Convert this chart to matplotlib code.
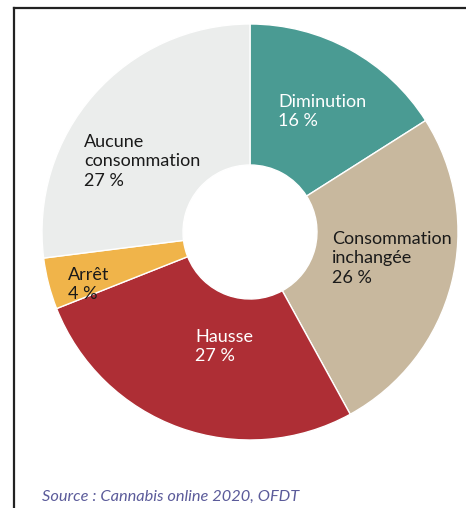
import matplotlib
matplotlib.use("Agg")
import matplotlib.pyplot as plt
from matplotlib.lines import Line2D

# donut: share of cannabis users by change in consumption
labels = ["Diminution", "Consommation\ninchangée", "Hausse", "Arrêt", "Aucune\nconsommation"]
values = [16, 26, 27, 4, 27]
colors = ["#4a9b93", "#c8b89e", "#ae2e35", "#f0b44a", "#ebedec"]
text_colors = ["white", "#1a1a1a", "white", "#1a1a1a", "#1a1a1a"]
source = "Source : Cannabis online 2020, OFDT"

plt.rcParams["font.family"] = ["Lato", "DejaVu Sans"]

W, H = 466, 508
fig = plt.figure(figsize=(W / 100, H / 100), dpi=100)

# centre ~ (250, 232) px, radius ~208 px
cx, cy, r = 250, 232, 208
ax = fig.add_axes([(cx - r) / W, (H - cy - r) / H, 2 * r / W, 2 * r / H])
ax.pie(values, colors=colors, startangle=90, counterclock=False,
       radius=1, wedgeprops=dict(width=1 - 67 / 208, edgecolor="white", linewidth=1))
ax.set_xlim(-1, 1)
ax.set_ylim(-1, 1)
ax.set_aspect("equal")
ax.axis("off")

# label anchors (top-left of text, in pixels)
label_pos = [(278, 94), (332, 231), (195, 329), (68, 267), (84, 134)]
for lab, v, tc, (px, py) in zip(labels, values, text_colors, label_pos):
    fig.text(px / W, 1 - py / H, f"{lab}\n{v} %", color=tc, fontsize=13,
             ha="left", va="top", linespacing=1.26)

# frame lines (left and top)
fig.add_artist(Line2D([14 / W, 14 / W], [0, 1 - 8 / H], transform=fig.transFigure,
                      color="#222222", linewidth=1.6))
fig.add_artist(Line2D([14 / W, 465 / W], [1 - 8 / H, 1 - 8 / H], transform=fig.transFigure,
                      color="#222222", linewidth=1.6))

fig.text(42 / W, 1 - 497 / H, source, color="#5b5b9a", fontsize=11.8,
         style="italic", ha="left", va="center")

fig.savefig("out.png", dpi=100)
